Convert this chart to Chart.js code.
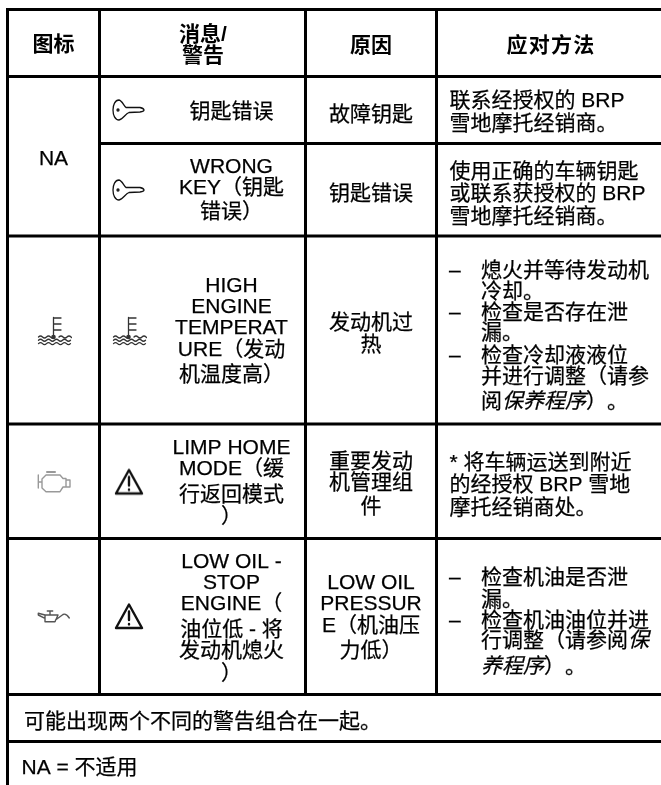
<!DOCTYPE html>
<html>
<head>
<meta charset="utf-8">
<style>
  html, body { margin: 0; padding: 0; background: #fff; }
  canvas { display: block; }
</style>
<script src="https://cdn.jsdelivr.net/npm/chart.js@4"></script>
</head>
<body>
<canvas id="tabla" width="661" height="785"></canvas>
<script>
// Table rules
const columnEdges = [7.5, 99.5, 305.5, 436.5];
const rowEdges = [9.5, 76.5, 143.5, 236, 424, 538.5, 694.5, 741.5];
const rowStarts = [7.5, 7.5, 99.5, 7.5, 7.5, 7.5, 7.5, 7.5]; // NA cell spans two rows
const columnBottoms = [785, 694.5, 694.5, 694.5];
const tableRight = 661;

// Header
const headerText = ['图标', '消息/', '警告', '原因', '应对方法'];
const headerX = [53.5, 203, 203, 371, 551];
const headerY = [43.5, 33, 54, 44, 44];
const headerSpacing = [0, 0, 0, 0, 1.2];

// Text per column: lines and the height of each line
const iconColumnText = ['NA'];
const iconColumnY = [157];

const messageText = ['钥匙错误', 'WRONG', 'KEY（钥匙', '错误）',
  'HIGH', 'ENGINE', 'TEMPERAT', 'URE（发动', '机温度高）',
  'LIMP HOME', 'MODE（缓', '行返回模式', '）',
  'LOW OIL -', 'STOP', 'ENGINE（', '油位低 - 将', '发动机熄火', '）'];
const messageY = [110, 165.7, 186.7, 210,
  284, 305, 326, 348, 373,
  446.7, 467, 493, 515,
  560.7, 581.7, 602, 628, 649, 672.7];

const causeText = ['故障钥匙', '钥匙错误', '发动机过', '热', '重要发动', '机管理组', '件',
  'LOW OIL', 'PRESSUR', 'E（机油压', '力低）'];
const causeY = [113, 192, 321.7, 343, 460, 481.7, 505, 581.7, 602.7, 624, 649];

const actionText = ['联系经授权的 BRP', '雪地摩托经销商。',
  '使用正确的车辆钥匙', '或联系获授权的 BRP', '雪地摩托经销商。',
  '* 将车辆运送到附近', '的经授权 BRP 雪地', '摩托经销商处。'];
const actionY = [99.3, 122.7, 170.7, 192.3, 215, 461.7, 483.3, 506];

// Bullet lists, _text_ is italic
const bulletText = ['熄火并等待发动机', '冷却。', '检查是否存在泄', '漏。', '检查冷却液液位',
  '并进行调整（请参', '阅_保养程序_）。',
  '检查机油是否泄', '漏。', '检查机油油位并进', '行调整（请参阅_保_', '_养程序_）。'];
const bulletY = [269.3, 290, 311.7, 331.7, 354, 375, 400, 576.7, 598, 619, 639, 665];
const dashY = [269.3, 311.7, 354, 576.7, 619];

const footerText = ['可能出现两个不同的警告组合在一起。', 'NA = 不适用'];
const footerX = [24, 21.5];
const footerY = [720, 766.7];

// Icon positions
const keyX = [129, 129];
const keyY = [110, 190];
const thermoX = [54, 129];
const thermoY = [331, 331];
const engineX = [54];
const engineY = [481];
const warningX = [129, 129];
const warningY = [481.5, 616];
const oilX = [54];
const oilY = [617];

const FONT = '"Liberation Sans", "Noto Sans CJK SC", sans-serif';
const PAREN_FONT = '"Noto Sans CJK TC", sans-serif';
const FONT_SIZE = 21;

function sprite(color, lineWidth, draw) {
  const c = document.createElement('canvas');
  c.width = 36;
  c.height = 36;
  const g = c.getContext('2d');
  g.strokeStyle = color;
  g.fillStyle = color;
  g.lineWidth = lineWidth;
  g.lineJoin = 'round';
  g.lineCap = 'round';
  draw(g);
  return c;
}

const keyIcon = sprite('#111', 1.3, g => {
  g.beginPath();
  g.moveTo(15, 15.5);
  g.lineTo(29, 15.5);
  g.quadraticCurveTo(33, 16.5, 33, 18);
  g.quadraticCurveTo(33, 19.5, 29, 20);
  g.lineTo(18, 20.5);
  g.bezierCurveTo(14, 22, 12, 27.5, 8, 28);
  g.bezierCurveTo(4, 28, 2, 23, 2, 18);
  g.bezierCurveTo(2, 13, 4, 8, 8, 8);
  g.bezierCurveTo(11, 8.5, 13, 14, 15, 15.5);
  g.stroke();
  g.beginPath();
  g.arc(7, 18, 1, 0, Math.PI * 2);
  g.stroke();
});

function wave(g, y, x0, x1) {
  g.beginPath();
  g.moveTo(x0, y);
  for (let x = x0; x < x1; x += 8) {
    g.quadraticCurveTo(x + 2, y - 2, x + 4, y);
    g.quadraticCurveTo(x + 6, y + 2, x + 8, y);
  }
  g.stroke();
}

const thermoIcon = sprite('#333', 1.3, g => {
  g.beginPath();
  g.moveTo(17.5, 4.5);
  g.lineTo(17.5, 24);
  [5, 11, 17].forEach(y => { g.moveTo(17.5, y); g.lineTo(25, y); });
  g.stroke();
  g.beginPath();
  g.arc(17.5, 24, 2.3, 0, Math.PI * 2);
  g.fill();
  wave(g, 24, 2.5, 12);
  wave(g, 24, 23, 33);
  wave(g, 27.3, 2.5, 33);
  wave(g, 30.6, 2.5, 33);
});

const engineIcon = sprite('#999', 1.4, g => {
  g.beginPath();
  g.moveTo(2.3, 12); g.lineTo(2.3, 25);
  g.moveTo(2.3, 19); g.lineTo(6, 19);
  g.moveTo(6, 16); g.lineTo(10, 12); g.lineTo(24, 12); g.lineTo(27, 15.5);
  g.lineTo(30, 15.5); g.lineTo(30, 24); g.lineTo(27, 24); g.lineTo(24, 28.7);
  g.lineTo(10, 28.7); g.lineTo(6, 25); g.closePath();
  g.moveTo(30, 17); g.lineTo(34, 17); g.lineTo(34, 24); g.lineTo(30, 24);
  g.stroke();
  g.lineWidth = 2;
  g.beginPath();
  g.moveTo(11, 9); g.lineTo(19, 9);
  g.stroke();
});

const warningIcon = sprite('#111', 2.4, g => {
  g.beginPath();
  g.moveTo(18, 6.5);
  g.lineTo(31, 30);
  g.lineTo(5, 30);
  g.closePath();
  g.stroke();
  g.beginPath();
  g.moveTo(18, 13.5);
  g.lineTo(18, 22);
  g.moveTo(18, 26);
  g.lineTo(18, 26.4);
  g.stroke();
});

const oilIcon = sprite('#555', 1.4, g => {
  g.beginPath();
  g.moveTo(2.3, 14.3); g.lineTo(9, 16); g.lineTo(9, 19.3); g.lineTo(2.3, 16); g.closePath();
  g.moveTo(9, 16); g.lineTo(22, 16); g.lineTo(19, 22.7); g.lineTo(9, 22.7); g.lineTo(9, 19.3);
  g.moveTo(19.5, 21); g.lineTo(27, 15.5);
  g.quadraticCurveTo(30, 14, 33.3, 19);
  g.moveTo(14, 16); g.lineTo(14, 12); g.moveTo(11.3, 12); g.lineTo(16.7, 12);
  g.stroke();
});

// Rules as line datasets
const rules = [];
rowEdges.forEach((y, i) => {
  rules.push({ data: [{ x: rowStarts[i], y: y }, { x: tableRight, y: y }] });
});
columnEdges.forEach((x, i) => {
  rules.push({ data: [{ x: x, y: rowEdges[0] - 1.5 }, { x: x, y: columnBottoms[i] }] });
});
const ruleDatasets = rules.map(r => ({
  type: 'line',
  data: r.data,
  borderColor: '#000',
  borderWidth: 3,
  pointRadius: 0,
  tension: 0
}));

function iconDataset(xs, ys, icon) {
  return {
    type: 'scatter',
    data: xs.map((x, i) => ({ x: x, y: ys[i] })),
    pointStyle: icon,
    pointRadius: 18,
    showLine: false
  };
}

// Breaks a line into runs; _x_ goes italic, full width brackets use the centred glyphs
function runsOf(text, bold) {
  const runs = [];
  text.split('_').forEach((part, i) => {
    part.split(/([（）])/).forEach(piece => {
      if (!piece) return;
      const family = /[（）]/.test(piece) ? PAREN_FONT : FONT;
      runs.push({
        text: piece,
        font: (i % 2 ? 'italic ' : '') + (bold ? 'bold ' : '') + FONT_SIZE + 'px ' + family
      });
    });
  });
  return runs;
}

// Writes one line through the chart scales
function writeLine(ctx, chart, text, x, y, align, bold, spacing) {
  const px = chart.scales.x.getPixelForValue(x);
  const py = chart.scales.y.getPixelForValue(y) + 7.5;
  const runs = runsOf(text, bold);
  ctx.letterSpacing = (spacing || 0) + 'px';
  let total = 0;
  runs.forEach(r => { ctx.font = r.font; total += ctx.measureText(r.text).width; });
  let cursor = align === 'center' ? px - total / 2 : px;
  ctx.textAlign = 'left';
  ctx.textBaseline = 'alphabetic';
  runs.forEach(r => {
    ctx.font = r.font;
    ctx.fillText(r.text, cursor, py);
    // the reference's strokes are a bit heavier than the regular weight here
    if (!bold) ctx.strokeText(r.text, cursor, py);
    cursor += ctx.measureText(r.text).width;
  });
  ctx.letterSpacing = '0px';
}

const tableText = {
  id: 'tableText',
  afterDatasetsDraw(chart) {
    const ctx = chart.ctx;
    ctx.save();
    ctx.fillStyle = '#000';
    ctx.strokeStyle = '#000';
    ctx.lineWidth = 0.25;
    headerText.forEach((t, i) => writeLine(ctx, chart, t, headerX[i], headerY[i], 'center', true, headerSpacing[i]));
    iconColumnText.forEach((t, i) => writeLine(ctx, chart, t, 53.5, iconColumnY[i], 'center'));
    messageText.forEach((t, i) => writeLine(ctx, chart, t, 231.5, messageY[i], 'center'));
    causeText.forEach((t, i) => writeLine(ctx, chart, t, 371, causeY[i], 'center'));
    actionText.forEach((t, i) => writeLine(ctx, chart, t, 449.5, actionY[i], 'left'));
    bulletText.forEach((t, i) => writeLine(ctx, chart, t, 481, bulletY[i], 'left'));
    dashY.forEach(y => writeLine(ctx, chart, '–', 449, y, 'left'));
    footerText.forEach((t, i) => writeLine(ctx, chart, t, footerX[i], footerY[i], 'left'));
    ctx.restore();
  }
};

new Chart(document.getElementById('tabla').getContext('2d'), {
  data: {
    datasets: ruleDatasets.concat([
      iconDataset(keyX, keyY, keyIcon),
      iconDataset(thermoX, thermoY, thermoIcon),
      iconDataset(engineX, engineY, engineIcon),
      iconDataset(warningX, warningY, warningIcon),
      iconDataset(oilX, oilY, oilIcon)
    ])
  },
  options: {
    responsive: false,
    animation: false,
    layout: { padding: 0, autoPadding: false },
    plugins: { legend: { display: false }, tooltip: { enabled: false } },
    scales: {
      x: { type: 'linear', display: false, min: 0, max: 661 },
      y: { type: 'linear', display: false, min: 0, max: 785, reverse: true }
    }
  },
  plugins: [tableText]
});
</script>
</body>
</html>
